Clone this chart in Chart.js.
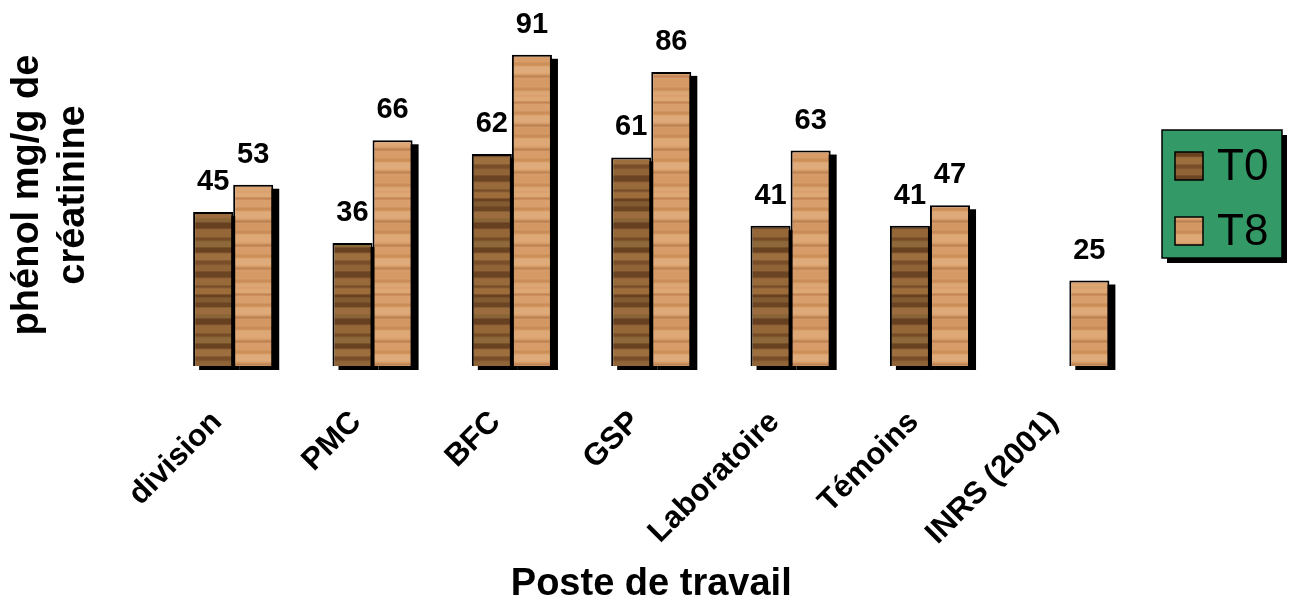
<!DOCTYPE html>
<html>
<head>
<meta charset="utf-8">
<script src="https://cdn.jsdelivr.net/npm/chart.js@4/dist/chart.umd.min.js"></script>
<style>
  html, body { margin: 0; padding: 0; background: #ffffff; }
  #wrap { width: 1289px; height: 605px; position: relative; }
</style>
</head>
<body>
<div id="wrap"><canvas id="chart"></canvas></div>
<script>
// Urinary phenol by work station, before (T0) and after (T8)
const categories = ['division', 'PMC', 'BFC', 'GSP', 'Laboratoire', 'Témoins', 'INRS (2001)'];
const seriesNames = ['T0', 'T8'];
const valuesT0 = [45, 36, 62, 61, 41, 41, null];
const valuesT8 = [53, 66, 91, 86, 63, 47, 25];
const yRange = [0, 100];
const yTitleLines = ['phénol mg/g de', 'créatinine'];
const xTitle = 'Poste de travail';

const FONT = '"Liberation Sans", Arial, Helvetica, sans-serif';

// Wood-grain fills built from soft-edged horizontal bands
function woodPattern(base, bands) {
  const W = 16, H = 96;
  const c = document.createElement('canvas');
  c.width = W; c.height = H;
  const g = c.getContext('2d');
  g.fillStyle = base;
  g.fillRect(0, 0, W, H);
  bands.forEach(([y, h, col, a]) => {
    g.fillStyle = col;
    // feathered halo first, then the core of the band
    g.globalAlpha = a * 0.45;
    g.fillRect(0, y - 1, W, h + 2);
    g.globalAlpha = a * 0.6;
    g.fillRect(0, y, W, h);
  });
  g.globalAlpha = 1;
  return g.createPattern(c, 'repeat');
}
const darkWood = woodPattern('#8c5e33', [
  [1, 5, '#a3733f', 0.9], [7, 2, '#5b391b', 0.9], [10, 4, '#7d5a2f', 0.7],
  [15, 4, '#603c1e', 0.95], [20, 6, '#a27443', 0.85], [27, 3, '#866a3a', 0.7],
  [31, 5, '#5a371a', 0.95], [38, 7, '#9c6d3b', 0.75], [46, 2, '#6b4522', 0.85],
  [50, 5, '#8d7040', 0.7], [56, 4, '#5d3a1c', 0.95], [62, 6, '#a77846', 0.8],
  [69, 3, '#704826', 0.85], [74, 5, '#94683a', 0.7], [80, 5, '#5e3b1d', 0.9],
  [87, 6, '#a07040', 0.75], [94, 1, '#6a4322', 0.7]
]);
const lightWood = woodPattern('#d69c68', [
  [1, 4, '#e2ae7e', 0.8], [6, 1, '#b97b4a', 0.9], [9, 5, '#dca473', 0.7],
  [16, 2, '#c48651', 0.7], [20, 6, '#e5b486', 0.7], [29, 1, '#b3744a', 0.9],
  [32, 5, '#d09460', 0.6], [39, 2, '#c2834f', 0.8], [43, 7, '#e3b181', 0.65],
  [53, 1, '#b5774b', 0.9], [56, 5, '#d99f6c', 0.6], [63, 2, '#c5874f', 0.7],
  [67, 6, '#e6b688', 0.65], [76, 1, '#b87a4c', 0.9], [80, 5, '#d49862', 0.6],
  [88, 2, '#c2844f', 0.7], [92, 3, '#e0ab7b', 0.7]
]);
const fills = [darkWood, lightWood];

// Drop shadow behind every bar
const barShadow = {
  id: 'barShadow',
  beforeDatasetsDraw(chart) {
    const ctx = chart.ctx;
    ctx.save();
    ctx.fillStyle = '#000000';
    chart.data.datasets.forEach((ds, i) => {
      chart.getDatasetMeta(i).data.forEach((bar, j) => {
        if (ds.data[j] == null) return;
        const p = bar.getProps(['x', 'y', 'base', 'width'], true);
        ctx.fillRect(p.x - p.width / 2 + 6, p.y + 4, p.width, p.base - p.y);
      });
    });
    ctx.restore();
  }
};

// Value printed above each bar
const barValues = {
  id: 'barValues',
  afterDatasetsDraw(chart) {
    const ctx = chart.ctx;
    ctx.save();
    ctx.font = 'bold 29px ' + FONT;
    ctx.fillStyle = '#000000';
    ctx.textAlign = 'center';
    ctx.textBaseline = 'alphabetic';
    chart.data.datasets.forEach((ds, i) => {
      chart.getDatasetMeta(i).data.forEach((bar, j) => {
        const v = ds.data[j];
        if (v == null) return;
        const p = bar.getProps(['x', 'y'], true);
        ctx.fillText(String(v), p.x, p.y - 22);
      });
    });
    ctx.restore();
  }
};

// Green boxed legend at the right
const boxLegend = {
  id: 'boxLegend',
  afterDraw(chart) {
    const ctx = chart.ctx;
    const bx = 1162, by = 130, bw = 120, bh = 128;
    ctx.save();
    ctx.fillStyle = '#000000';
    ctx.fillRect(bx + 5, by + 5, bw, bh);
    ctx.fillStyle = '#339966';
    ctx.fillRect(bx, by, bw, bh);
    ctx.lineWidth = 1.5;
    ctx.strokeStyle = '#000000';
    ctx.strokeRect(bx, by, bw, bh);
    ctx.font = '44px ' + FONT;
    ctx.textBaseline = 'middle';
    ctx.textAlign = 'left';
    chart.data.datasets.forEach((ds, i) => {
      const cy = 166 + i * 65;
      ctx.fillStyle = ds.backgroundColor;
      ctx.fillRect(1175, cy - 14, 28, 28);
      ctx.strokeRect(1175, cy - 14, 28, 28);
      ctx.fillStyle = '#000000';
      ctx.fillText(ds.label, 1217, cy + 2);
    });
    ctx.restore();
  }
};

new Chart(document.getElementById('chart'), {
  type: 'bar',
  data: {
    labels: categories,
    datasets: [
      { label: seriesNames[0], data: valuesT0, backgroundColor: fills[0], borderColor: '#000000', borderWidth: 2 },
      { label: seriesNames[1], data: valuesT8, backgroundColor: fills[1], borderColor: '#000000', borderWidth: 2 }
    ]
  },
  options: {
    responsive: true,
    maintainAspectRatio: false,
    animation: false,
    devicePixelRatio: 1,
    layout: { padding: { left: 0, right: 150, top: 24, bottom: 0 } },
    datasets: { bar: { categoryPercentage: 0.575, barPercentage: 1.0 } },
    plugins: { legend: { display: false }, tooltip: { enabled: false } },
    scales: {
      x: {
        grid: { display: false, drawTicks: false },
        border: { display: false },
        ticks: {
          autoSkip: false, minRotation: 45, maxRotation: 45,
          padding: 38, labelOffset: -16,
          color: '#000000', font: { family: FONT, size: 31, weight: 'bold' }
        },
        title: {
          display: true, text: xTitle, color: '#000000',
          font: { family: FONT, size: 38, weight: 'bold', lineHeight: 1 },
          padding: { top: 0, bottom: 1 }
        },
        afterFit(scale) { scale.height = 239; }
      },
      y: {
        min: yRange[0], max: yRange[1],
        grid: { display: false, drawTicks: false },
        border: { display: false },
        ticks: { display: false },
        title: {
          display: true, text: yTitleLines, color: '#000000',
          font: { family: FONT, size: 38, weight: 'bold', lineHeight: 1.2 },
          padding: { top: 5, bottom: 0 }
        },
        afterFit(scale) { scale.width = 163.5; }
      }
    }
  },
  plugins: [barShadow, barValues, boxLegend]
});
</script>
</body>
</html>
